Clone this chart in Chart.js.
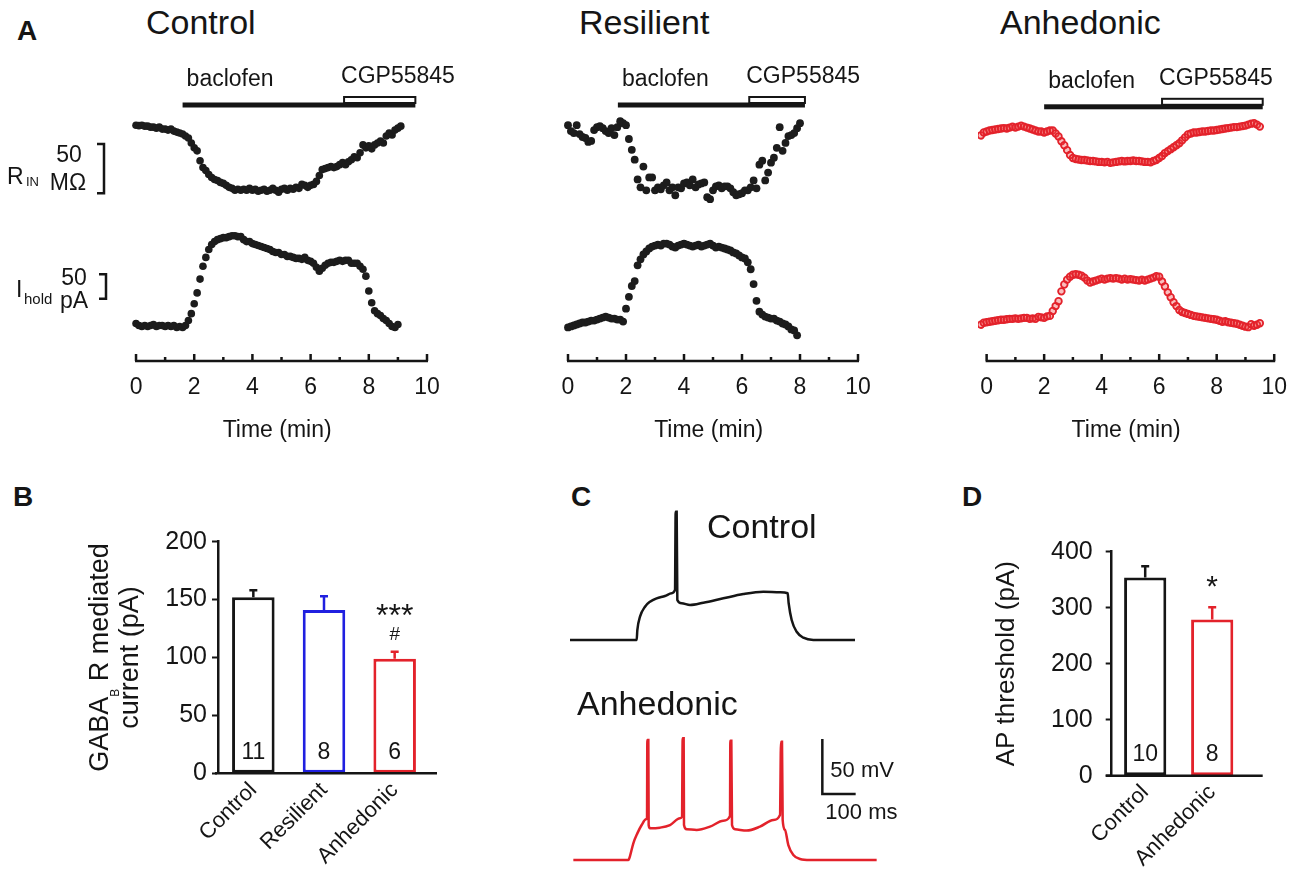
<!DOCTYPE html>
<html>
<head>
<meta charset="utf-8">
<title>GABA-B responses</title>
<script src="https://cdn.jsdelivr.net/npm/chart.js@4.4.1/dist/chart.umd.min.js"></script>
<style>
  html, body { margin: 0; padding: 0; background: #fff; }
  body { position: relative; width: 1300px; height: 880px; overflow: hidden;
         font-family: 'Liberation Sans', Arial, Helvetica, sans-serif; color: #151515; }
  canvas { position: absolute; }
  .txt { position: absolute; white-space: nowrap; line-height: 1; }
  .letter { font-weight: bold; font-size: 28px; }
  .head { font-size: 34px; }
</style>
</head>
<body>
<div class="txt letter" style="left:17px;top:17px">A</div>
<div class="txt head" style="left:146px;top:5px">Control</div>
<div class="txt head" style="left:579px;top:5px">Resilient</div>
<div class="txt head" style="left:1000px;top:5px">Anhedonic</div>
<div class="txt letter" style="left:13px;top:483px">B</div>
<div class="txt letter" style="left:571px;top:483px">C</div>
<div class="txt letter" style="left:962px;top:483px">D</div>

<canvas id="aCtl" width="460" height="400" style="left:0;top:60px"></canvas>
<canvas id="aRes" width="420" height="400" style="left:470px;top:60px"></canvas>
<canvas id="aAnh" width="400" height="400" style="left:900px;top:60px"></canvas>
<canvas id="bBar" width="440" height="390" style="left:20px;top:490px"></canvas>
<canvas id="cTrace" width="360" height="390" style="left:550px;top:490px"></canvas>
<canvas id="dBar" width="340" height="390" style="left:960px;top:490px"></canvas>

<script>
const FONT = "'Liberation Sans', Arial, Helvetica, sans-serif";
const INK = '#151515', BLUE = '#2020e0', RED = '#e3222b';

// ---------- A: time courses, one sample every 0.1 min ----------
// values are change from baseline: input resistance (MOhm) and holding current (pA)
const sampleStep = 0.1;
const timeTicks = [0, 2, 4, 6, 8, 10];

const ctlStart = 0;
const ctlRin = [0, -0.5, 0, -1, -1, -2, -2, -3, -2, -4, -4, -5, -4, -6, -7, -8, -9, -11, -13, -18,
  -23, -26, -36, -43, -46, -50, -53, -55, -56, -58, -59, -61, -63, -64, -66, -65, -66, -65, -66, -64,
  -66, -65, -67, -66, -65, -67, -66, -64, -66, -68, -65, -64, -66, -64, -65, -63, -64, -60, -61, -63,
  -61, -60, -57, -51, -45, -44, -43, -42, -43, -42, -40, -38, -40, -37, -35, -32, -33, -28, -20, -23,
  -21, -24, -20, -18, -16, -18, -11, -8, -10, -5, -3, -1];
const ctlIhold = [0, -4, -6, -4, -6, -4, -2, -6, -4, -4, -6, -4, -6, -4, -8, -6, -8, -4, 6, 20,
  40, 62, 90, 116, 134, 150, 160, 166, 170, 172, 174, 174, 176, 178, 178, 176, 176, 170, 166, 166,
  162, 160, 158, 156, 154, 152, 150, 146, 144, 144, 140, 140, 136, 136, 134, 132, 132, 130, 134, 128,
  126, 122, 114, 106, 112, 118, 122, 124, 124, 126, 128, 126, 128, 128, 122, 122, 122, 116, 110, 96,
  66, 42, 26, 20, 16, 10, 6, 0, -6, -8, -2];

const resStart = 0;
const resRin = [0, -6, -8, 0, -9, -12, -13, -17, -16, -5, -2, -1, -3, -6, -8, -3, -10, -2, 4, 2,
  0, -14, -25, -35, -55, -63, -42, -66, -53, -53, -66, -63, -65, -61, -58, -66, -63, -71, -63, -64,
  -59, -58, -61, -55, -63, -60, -59, -58, -73, -75, -66, -62, -61, -64, -62, -62, -64, -68, -71, -70,
  -69, -66, -66, -63, -56, -64, -40, -36, -56, -48, -38, -33, -23, -2, -26, -18, -11, -10, -8, -3, 2];
const resIhold = [0, 2, 4, 6, 8, 10, 10, 12, 14, 14, 16, 18, 20, 22, 20, 18, 18, 16, 16, 12,
  38, 62, 84, 94, 126, 138, 148, 154, 160, 164, 166, 168, 166, 170, 170, 168, 164, 162, 166, 168,
  170, 168, 166, 164, 166, 168, 164, 166, 168, 170, 166, 162, 164, 162, 160, 158, 156, 152, 150, 146,
  142, 140, 132, 118, 88, 54, 32, 26, 22, 20, 18, 18, 14, 12, 8, 6, 2, -4, -6, -16];

const anhStart = -0.2;
const anhRin = [-4, -1, 0, 1, 1.5, 2, 2.5, 3, 3.5, 3, 4, 5, 4, 5, 6, 5, 4, 3, 2, 1,
  0, 0, -1, 0, 1, 1, -2, -5, -10, -14, -19, -24, -27, -28, -28.5, -29, -29, -29.5, -30, -30,
  -30.5, -31, -31, -31.5, -31, -32, -31.5, -31, -30.5, -30, -30.5, -30, -30, -29.5, -30, -30, -30.5, -31, -31, -31.5,
  -30, -29, -27, -25, -22, -20, -18, -16, -14, -12, -9, -6, -3, -2, -1, -1, -0.5, 0, 0, 0.5,
  1, 1, 1.5, 2, 2.5, 3, 3.5, 4, 4.5, 4.5, 5, 5.5, 6, 7, 8, 8.5, 7, 5];
const anhIhold = [-5, -1, 0, 1, 2, 3, 4, 5, 5, 6, 7, 7, 8, 7, 8, 9, 9, 7, 8, 7,
  11, 10, 9, 12, 13, 23, 33, 43, 63, 77, 87, 93, 97, 98, 97, 95, 91, 85, 81, 83,
  85, 87, 89, 87, 89, 90, 89, 90, 89, 87, 89, 87, 88, 87, 86, 85, 87, 85, 87, 89,
  91, 94, 93, 83, 73, 61, 51, 41, 33, 25, 21, 19, 17, 15, 13, 12, 11, 10, 9, 8,
  7, 6, 5, 3, 1, 2, 0, -1, -2, -3, -5, -7, -9, -10, -4, -7, -5, -2];

// drug application (min): baclofen on, CGP55845 on, end of bars  [Control, Resilient, Anhedonic]
const bacOn = [1.6, 1.72, 2.0];
const cgpOn = [7.15, 6.25, 6.1];
const drugOff = [9.6, 8.17, 9.6];
const rinScale = 50;     // MOhm
const iholdScale = 50;   // pA

// ---------- B ----------
const gabaGroups = ['Control', 'Resilient', 'Anhedonic'];
const gabaMean = [152, 141, 99];
const gabaSem = [6, 12, 6];
const gabaN = [11, 8, 6];
const gabaStars = ['', '', '***'];
const gabaVsRes = ['', '', '#'];

// ---------- C: membrane potential traces (ms, mV) ----------
const ctlTraceT = [0, 200, 202, 210, 225, 240, 260, 285, 305, 315, 317, 320, 322, 335, 360, 400, 460, 520, 580, 630,
  653, 656, 665, 680, 700, 730, 855];
const ctlTraceV = [-70, -70, -61, -48.8, -39.7, -35.2, -32.1, -30, -27.5, -24.5, 46.6, 46.6, -33.6, -36.6, -38.2, -36.1, -32.1, -28.2, -26.1, -26.6,
  -27.5, -36.6, -51.8, -62.5, -67.9, -70, -70];
const anhTraceT = [10, 175, 180, 190, 202, 215, 228, 231, 232, 235, 236, 240, 270, 300, 330, 336, 338, 341, 342, 350,
  380, 420, 460, 480, 481, 484, 486, 495, 530, 570, 610, 630, 633, 636, 638, 645, 655, 670, 690, 720, 920];
const anhTraceV = [-70, -70, -66.4, -54.8, -45.8, -38.2, -33, -32.1, 39.1, 39.1, -38.2, -41.2, -40.6, -38.2, -32.1, -30.6, 40.6, 40.6, -38.2, -42.1,
  -42.7, -39.7, -34.3, -30, 38.5, 38.5, -38.2, -42.1, -43.3, -39.7, -33.6, -29.1, 37.6, 37.6, -33.6, -42.7, -56.4, -65.5, -69.1, -70, -70];
const mvScale = 50, msScale = 100;

// ---------- D ----------
const apGroups = ['Control', 'Anhedonic'];
const apMean = [354, 279];
const apSem = [20, 22];
const apN = [10, 8];
const apStars = ['', '*'];

Chart.defaults.font.family = FONT;
Chart.defaults.color = INK;
Chart.defaults.animation = false;
Chart.defaults.events = [];
Chart.defaults.plugins.legend.display = false;
Chart.defaults.plugins.tooltip.enabled = false;

function pts(start, vals) {
  return vals.map((v, i) => ({ x: Math.round((start + i * sampleStep) * 100) / 100, y: v }));
}

// time axis (ticks pointing up) + drug bars
function drugsPlugin(k) {
  return {
    id: 'drugs',
    afterDraw(chart) {
      const { ctx, chartArea: a } = chart;
      const x = chart.scales.x;
      ctx.save();
      ctx.strokeStyle = INK; ctx.fillStyle = INK; ctx.lineWidth = 2.5;
      ctx.beginPath();
      ctx.moveTo(x.getPixelForValue(0) - 1, a.bottom);
      ctx.lineTo(x.getPixelForValue(10) + 1, a.bottom);
      for (let t = 0; t <= 10; t++) {
        const px = x.getPixelForValue(t);
        ctx.moveTo(px, a.bottom);
        ctx.lineTo(px, a.bottom - (t % 2 ? 4 : 7));
      }
      ctx.stroke();

      const b0 = x.getPixelForValue(bacOn[k]);
      const c0 = x.getPixelForValue(cgpOn[k]);
      const e = x.getPixelForValue(drugOff[k]);
      ctx.fillRect(b0, a.top + 38.5, e - b0, 5);
      ctx.lineWidth = 2;
      ctx.strokeRect(c0, a.top + 33, e - c0, 6);
      ctx.font = '23px ' + FONT;
      ctx.textAlign = 'left'; ctx.textBaseline = 'middle';
      ctx.fillText('baclofen', b0 + 4, a.top + 16);
      ctx.fillText('CGP55845', c0 - 3, a.top + 13);
      ctx.restore();
    }
  };
}

function bracket(ctx, x, y1, y2) {
  ctx.beginPath();
  ctx.moveTo(x - 7, y1); ctx.lineTo(x, y1); ctx.lineTo(x, y2); ctx.lineTo(x - 7, y2);
  ctx.stroke();
}

// R_IN / I_hold scale bars (left of the Control panel)
const scaleLabels = {
  id: 'scaleLabels',
  afterDraw(chart) {
    const { ctx } = chart;
    const { yR, yI } = chart.scales;
    const r1 = yR.getPixelForValue(-19), r2 = yR.getPixelForValue(-19 - rinScale);
    const i1 = yI.getPixelForValue(100), i2 = yI.getPixelForValue(100 - iholdScale);
    const rm = (r1 + r2) / 2, im = (i1 + i2) / 2;
    ctx.save();
    ctx.strokeStyle = INK; ctx.fillStyle = INK; ctx.lineWidth = 2.5;
    bracket(ctx, 104, r1, r2);
    bracket(ctx, 106, i1, i2);
    ctx.textBaseline = 'middle';
    ctx.textAlign = 'left';
    ctx.font = '23px ' + FONT;
    ctx.fillText('R', 7, rm + 9);
    ctx.fillText('I', 16, im + 4);
    ctx.font = '13px ' + FONT;
    ctx.fillText('IN', 26, rm + 14);
    ctx.font = '15px ' + FONT;
    ctx.fillText('hold', 24, im + 13);
    ctx.textAlign = 'center';
    ctx.font = '23px ' + FONT;
    ctx.fillText(String(rinScale), 69, rm - 13);
    ctx.fillText('M\u03A9', 68, rm + 15);
    ctx.fillText(String(iholdScale), 74, im - 8);
    ctx.fillText('pA', 74, im + 15);
    ctx.restore();
  }
};

function timeChart(id, k, start, rin, ihold, pad, rinRange, iRange, dot, extra) {
  const ds = (vals, axis) => Object.assign({ data: pts(start, vals), yAxisID: axis }, dot);
  return new Chart(document.getElementById(id), {
    type: 'scatter',
    data: { datasets: [ds(rin, 'yR'), ds(ihold, 'yI')] },
    options: {
      responsive: false,
      layout: { padding: { left: pad[0], right: pad[1], top: 0, bottom: 0 } },
      scales: {
        x: {
          type: 'linear', min: -0.3, max: 10,
          border: { display: false },
          grid: { display: false, drawTicks: false },
          afterBuildTicks: s => { s.ticks = timeTicks.map(v => ({ value: v })); },
          ticks: { padding: 13, color: INK, font: { size: 23 }, maxRotation: 0, autoSkip: false },
          title: { display: true, text: 'Time (min)', color: INK, font: { size: 23 }, padding: { top: 0, bottom: 16 } },
          afterFit: s => { s.height = 99; }
        },
        yR: { type: 'linear', display: false, min: rinRange[0], max: rinRange[1] },
        yI: { type: 'linear', display: false, min: iRange[0], max: iRange[1] }
      }
    },
    plugins: [drugsPlugin(k)].concat(extra || [])
  });
}

const blackDot = { pointRadius: 3.8, pointBackgroundColor: '#1c1c1c', pointBorderWidth: 0, pointBorderColor: '#1c1c1c' };
timeChart('aCtl', 0, ctlStart, ctlRin, ctlIhold, [127.3, 33], [-239, 62], [-76, 526], blackDot, [scaleLabels]);
timeChart('aRes', 1, resStart, resRin, resIhold, [89.3, 32], [-239, 62], [-68, 534],
  Object.assign({}, blackDot, { pointRadius: 3.9 }));
timeChart('aAnh', 2, anhStart, anhRin, anhIhold, [78, 24.3], [-234, 67], [-79, 523],
  { pointRadius: 3.3, pointBackgroundColor: 'rgba(240,70,70,0.35)', pointBorderColor: RED, pointBorderWidth: 1.8 });

// ---------- bar panels ----------
function barExtras(means, sems, ns, stars, hashes, cfg) {
  return {
    id: 'barExtras',
    afterDatasetsDraw(chart) {
      const { ctx, chartArea: a } = chart;
      const y = chart.scales.y;
      const meta = chart.getDatasetMeta(0);
      const colors = chart.data.datasets[0].borderColor;
      ctx.save();
      ctx.lineWidth = 2.5; ctx.strokeStyle = INK;
      ctx.beginPath();
      ctx.moveTo(a.left - cfg.axisExt[0], a.bottom);
      ctx.lineTo(a.right + cfg.axisExt[1], a.bottom);
      ctx.stroke();
      ctx.textAlign = 'center'; ctx.textBaseline = 'middle';
      meta.data.forEach((bar, i) => {
        const top = y.getPixelForValue(means[i] + sems[i]);
        ctx.strokeStyle = colors[i];
        ctx.beginPath();
        ctx.moveTo(bar.x, bar.y); ctx.lineTo(bar.x, top);
        ctx.moveTo(bar.x - 4, top); ctx.lineTo(bar.x + 4, top);
        ctx.stroke();
        ctx.fillStyle = INK;
        ctx.font = '23px ' + FONT;
        ctx.fillText(String(ns[i]), bar.x, a.bottom - 21);
        if (stars[i]) { ctx.font = cfg.starSize + 'px ' + FONT; ctx.fillText(stars[i], bar.x, top - cfg.starLift); }
        if (hashes && hashes[i]) { ctx.font = '19px ' + FONT; ctx.fillText(hashes[i], bar.x, top - 17); }
      });
      ctx.restore();
      cfg.title(ctx, a);
    }
  };
}

function rotatedText(ctx, cx, cy, parts) {
  // parts: [text, fontSize, shift]; drawn bottom-to-top, centred on (cx, cy)
  ctx.save();
  ctx.fillStyle = INK; ctx.textAlign = 'left'; ctx.textBaseline = 'middle';
  ctx.translate(cx, cy); ctx.rotate(-Math.PI / 2);
  const widths = parts.map(p => { ctx.font = p[1] + 'px ' + FONT; return ctx.measureText(p[0]).width; });
  let x0 = -widths.reduce((s, w) => s + w, 0) / 2;
  parts.forEach((p, i) => { ctx.font = p[1] + 'px ' + FONT; ctx.fillText(p[0], x0, p[2]); x0 += widths[i]; });
  ctx.restore();
}

function barOptions(yMax, step, pad, yWidth, xHeight, tickPad) {
  return {
    responsive: false,
    layout: { padding: pad },
    scales: {
      x: {
        grid: { display: false, drawTicks: false }, border: { display: false },
        ticks: { color: INK, font: { size: 22 }, minRotation: 45, maxRotation: 45, padding: 4, autoSkip: false },
        afterFit: s => { s.height = xHeight; }
      },
      y: {
        min: 0, max: yMax,
        border: { color: INK, width: 2.5 },
        grid: { drawOnChartArea: false, tickLength: 6, tickWidth: 2, tickColor: INK },
        ticks: { stepSize: step, color: INK, font: { size: 25 }, padding: tickPad },
        afterFit: s => { s.width = yWidth; }
      }
    }
  };
}

new Chart(document.getElementById('bBar'), {
  type: 'bar',
  data: {
    labels: gabaGroups,
    datasets: [{ data: gabaMean, backgroundColor: '#fff', borderColor: [INK, BLUE, RED], borderWidth: 3,
                 borderSkipped: false, barPercentage: 0.86, categoryPercentage: 0.7 }]
  },
  options: barOptions(200, 50, { left: 0, right: 30, top: 51.7, bottom: 0 }, 198, 106.7, 5),
  plugins: [barExtras(gabaMean, gabaSem, gabaN, gabaStars, gabaVsRes, {
    axisExt: [3, 7], starSize: 32, starLift: 35,
    title(ctx, a) {
      const cy = (a.top + a.bottom) / 2;
      rotatedText(ctx, a.left - 117, cy, [['GABA', 27, 0], ['B', 12, 15], [' R mediated', 27, 0]]);
      rotatedText(ctx, a.left - 87, cy, [['current (pA)', 27, 0]]);
    }
  })]
});

new Chart(document.getElementById('dBar'), {
  type: 'bar',
  data: {
    labels: apGroups,
    datasets: [{ data: apMean, backgroundColor: '#fff', borderColor: [INK, RED], borderWidth: 3,
                 borderSkipped: false, barPercentage: 0.9, categoryPercentage: 0.7 }]
  },
  options: barOptions(400, 100, { left: 0, right: 54.3, top: 61.7, bottom: 0 }, 151.7, 104.3, 13),
  plugins: [barExtras(apMean, apSem, apN, apStars, null, {
    axisExt: [6, 17], starSize: 30, starLift: 19,
    title(ctx, a) {
      rotatedText(ctx, a.left - 105, (a.top + a.bottom) / 2, [['AP threshold (pA)', 26, 0]]);
    }
  })]
});

// ---------- C: traces ----------
const traceExtras = {
  id: 'traceExtras',
  afterDraw(chart) {
    const { ctx } = chart;
    const { x, yA } = chart.scales;
    const bx = x.getPixelForValue(757), br = x.getPixelForValue(757 + msScale);
    const by = yA.getPixelForValue(-10), bt = yA.getPixelForValue(-10 + mvScale);
    ctx.save();
    ctx.strokeStyle = INK; ctx.fillStyle = INK; ctx.lineWidth = 2.5;
    ctx.beginPath();
    ctx.moveTo(bx, bt); ctx.lineTo(bx, by); ctx.lineTo(br, by);
    ctx.stroke();
    ctx.textAlign = 'left'; ctx.textBaseline = 'middle';
    ctx.font = '22px ' + FONT;
    ctx.fillText(mvScale + ' mV', bx + 8, by - 23);
    ctx.fillText(msScale + ' ms', bx + 3, by + 19);
    ctx.font = '34px ' + FONT;
    ctx.fillText('Control', 157, 39);
    ctx.fillText('Anhedonic', 27, 216);
    ctx.restore();
  }
};

const trace = (ts, vs) => ts.map((t, i) => ({ x: t, y: vs[i] }));
new Chart(document.getElementById('cTrace'), {
  type: 'scatter',
  data: {
    datasets: [
      { data: trace(ctlTraceT, ctlTraceV), yAxisID: 'yC', showLine: true, borderColor: INK, borderWidth: 2.5,
        pointRadius: 0, cubicInterpolationMode: 'monotone' },
      { data: trace(anhTraceT, anhTraceV), yAxisID: 'yA', showLine: true, borderColor: RED, borderWidth: 2.5,
        pointRadius: 0, cubicInterpolationMode: 'monotone' }
    ]
  },
  options: {
    responsive: false,
    layout: { padding: 0 },
    scales: {
      x: { type: 'linear', display: false, min: -60, max: 1020 },
      yC: { type: 'linear', display: false, min: -288.2, max: 66.4 },
      yA: { type: 'linear', display: false, min: -88.2, max: 266.4 }
    }
  },
  plugins: [traceExtras]
});
</script>
</body>
</html>
